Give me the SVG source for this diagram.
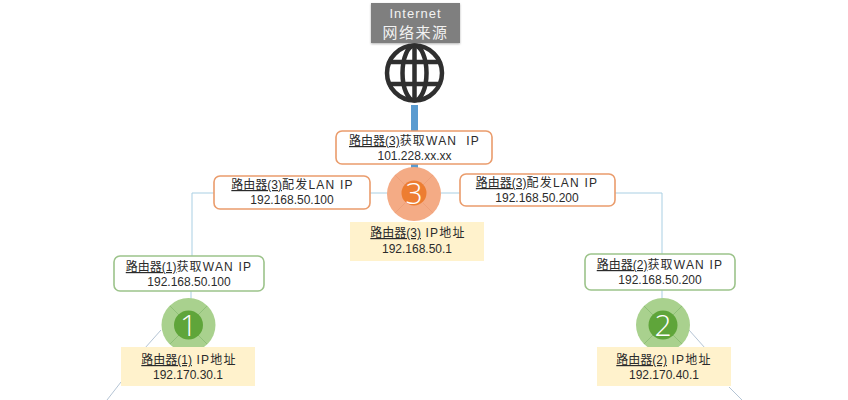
<svg xmlns="http://www.w3.org/2000/svg" width="848" height="400" viewBox="0 0 848 400">
<defs>
<filter id="sh" x="-10%" y="-10%" width="120%" height="125%"><feDropShadow dx="0" dy="1" stdDeviation="1" flood-color="#000" flood-opacity="0.3"/></filter>
</defs>
<style>
text{font-family:"Liberation Sans","Noto Sans CJK SC",sans-serif;font-size:12px;fill:#2b2b2b;text-anchor:middle}
.u{text-decoration:underline}
.t{letter-spacing:1.2px;white-space:pre}
.or{fill:#fff;stroke:#ea9c6c;stroke-width:1.6}
.gr{fill:#fff;stroke:#9cc38a;stroke-width:1.6}
.ye{fill:#fff2cc}
.ln{fill:none;stroke:#a9cfe3;stroke-width:1}
.dg{fill:none;stroke:#b4c4d4;stroke-width:1}
.bar{fill:none;stroke:#5a9bd0;stroke-width:7}
.spk{stroke-width:1;fill:none}
.num{font-size:30px;font-weight:300;fill:#fff;font-family:"Open Sans","Liberation Sans",sans-serif}
.g{fill:none;stroke:#2f2f2f;stroke-width:4.5}
</style>
<rect width="848" height="400" fill="#fff"/>
<g id="connectors">
<path class="bar" d="M414.500 105V131M414.500 164V172"/>
<path class="ln" d="M214 193H192V256M370 193H390M438 193H460M615 193H662V254M191 291V302M662 290V302"/>
<path class="dg" d="M161 330L145 348M121 382L107 400M689 330L705 348M729 387L742 400"/>
</g>
<g id="internet">
<rect x="371" y="3" width="89" height="40" fill="#7f7f7f" filter="url(#sh)"/>
<text x="415.500" y="18" style="font-size:13px;letter-spacing:1px;fill:#f2f2f2">Internet</text>
<text x="415.500" y="38" style="font-size:15px;letter-spacing:1.500px;fill:#f2f2f2">网络来源</text>
</g>
<g id="globe">
<circle class="g" cx="414.500" cy="73" r="27.500"/>
<ellipse class="g" cx="414.500" cy="73" rx="12" ry="27.500"/>
<path class="g" d="M414.500 46V100M388 62H441M388 84H441"/>
</g>
<g id="wan3">
<rect class="or" x="336" y="131" width="156" height="33" rx="6"/>
<text x="414.500" y="145"><tspan class="u">路由器(3)</tspan><tspan class="t">获取WAN  IP</tspan></text>
<text x="414.500" y="160">101.228.xx.xx</text>
</g>
<g id="lan3a">
<rect class="or" x="214" y="176" width="156" height="33" rx="6"/>
<text x="292.500" y="189"><tspan class="u">路由器(3)</tspan><tspan class="t">配发LAN IP</tspan></text>
<text x="292" y="204">192.168.50.100</text>
</g>
<g id="lan3b">
<rect class="or" x="460" y="174" width="155" height="32" rx="6"/>
<text x="537" y="187"><tspan class="u">路由器(3)</tspan><tspan class="t">配发LAN IP</tspan></text>
<text x="537" y="202">192.168.50.200</text>
</g>
<g id="router3">
<circle cx="414" cy="194" r="27" fill="#f4ab85"/>
<path class="spk" stroke="#eea07a" d="M395 175L405 185M433 175L423 185M395 213L405 203M433 213L423 203"/>
<circle cx="414" cy="193" r="12.500" fill="#ed7d31"/>
<text class="num" x="414" y="204">3</text>
</g>
<g id="ip3">
<rect class="ye" x="350" y="222" width="134" height="39"/>
<text x="418" y="237"><tspan class="u">路由器(3)</tspan><tspan class="t"> IP地址</tspan></text>
<text x="417" y="253">192.168.50.1</text>
</g>
<g id="wan1">
<rect class="gr" x="114" y="256" width="150" height="35" rx="6"/>
<text x="189" y="271"><tspan class="u">路由器(1)</tspan><tspan class="t">获取WAN IP</tspan></text>
<text x="189" y="286">192.168.50.100</text>
</g>
<g id="router1">
<circle cx="188.500" cy="325" r="27" fill="#a9d18e"/>
<path class="spk" stroke="#8fbf78" d="M170 306L179 315M207 306L198 315M170 344L179 335M207 344L198 335"/>
<circle cx="188.500" cy="325" r="14.500" fill="#5fa53a"/>
<text class="num" x="188.500" y="336">1</text>
</g>
<g id="ip1">
<rect class="ye" x="121" y="347" width="134" height="39"/>
<text x="189" y="364"><tspan class="u">路由器(1)</tspan><tspan class="t"> IP地址</tspan></text>
<text x="188" y="379">192.170.30.1</text>
</g>
<g id="wan2">
<rect class="gr" x="585" y="254" width="150" height="36" rx="6"/>
<text x="660" y="269"><tspan class="u">路由器(2)</tspan><tspan class="t">获取WAN IP</tspan></text>
<text x="660" y="284">192.168.50.200</text>
</g>
<g id="router2">
<circle cx="663" cy="325" r="27" fill="#a9d18e"/>
<path class="spk" stroke="#8fbf78" d="M644 306L654 316M682 306L672 316M644 344L654 334M682 344L672 334"/>
<circle cx="663" cy="325" r="14.500" fill="#5fa53a"/>
<text class="num" x="663" y="336">2</text>
</g>
<g id="ip2">
<rect class="ye" x="597" y="347" width="134" height="39"/>
<text x="664" y="364"><tspan class="u">路由器(2)</tspan><tspan class="t"> IP地址</tspan></text>
<text x="664" y="379">192.170.40.1</text>
</g>
</svg>
